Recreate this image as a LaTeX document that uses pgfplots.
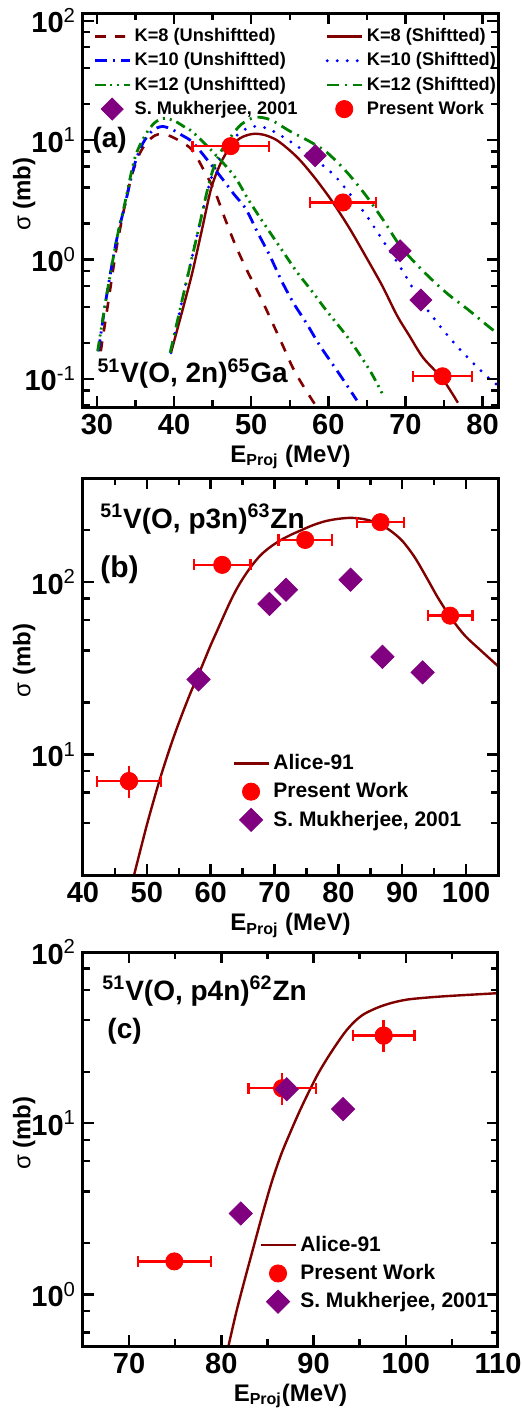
\documentclass[border=0pt]{standalone}
\usepackage{pgfplots}
\pgfplotsset{compat=1.18}
\usepackage{fontspec}
\setmainfont{Liberation Sans}
\definecolor{kred}{RGB}{128,0,0}
\definecolor{kblue}{RGB}{0,0,255}
\definecolor{kgreen}{RGB}{0,128,0}
\definecolor{mpurple}{RGB}{128,0,128}
\definecolor{pred}{RGB}{255,0,0}

\tikzset{note/.style={inner sep=0pt, font=\fontsize{14}{15}\selectfont\bfseries}}

\pgfplotsset{
  every axis/.append style={
    scale only axis, width=207.5pt,
    axis line style={line width=1.5pt},
    tick label style={font=\fontsize{14.5}{15}\selectfont\bfseries},
    label style={font=\fontsize{12}{13}\selectfont\bfseries},
    minor x tick num=1,
    legend cell align=left,
  },
  every axis y label/.style={at={(axis description cs:-0.142,0.54)}, rotate=90, anchor=center},
  every axis x label/.style={at={(axis description cs:0.5,-0.14)}, anchor=base},
  pw/.style={only marks, mark=*, mark size=4.3pt, color=pred,
    error bars/x dir=both, error bars/x explicit,
    error bars/error bar style={line width=1.2pt, pred},
    error bars/error mark options={rotate=90, pred, line width=1.2pt, mark size=2.8pt}},
  pwy/.style={only marks, mark=*, mark size=4.3pt, color=pred, forget plot,
    error bars/y dir=both, error bars/y explicit,
    error bars/error bar style={line width=1.2pt, pred},
    error bars/error mark options={pred, line width=1.2pt, mark size=2.8pt}},
  mk/.style={only marks, mark=square*, mark size=3.9pt, mark options={rotate=45}, color=mpurple},
  alice/.style={kred, line width=1.2pt, smooth, no marks},
}

\begin{document}
\begin{tikzpicture}

% ---------------- (a) 51V(O,2n)65Ga
\begin{axis}[at={(0,0)}, anchor=north west, height=197pt, ymode=log,
  axis on top, every tick/.style={draw=black, line width=1.2pt},
  major tick length=5.5pt, minor tick length=3.5pt,
  /pgf/number format/assume math mode=true,
  xmin=28.2, xmax=82, xtick={30,40,...,80},
  ymin=0.058, ymax=116, ytick={0.1,1,10,100},
  yticklabels={10\textsuperscript{\mdseries -1},10\textsuperscript{\mdseries 0},10\textsuperscript{\mdseries 1},10\textsuperscript{\mdseries 2}},
  minor ytick={0.06,0.08,0.2,0.4,0.6,0.8,2,4,6,8,20,40,60,80},
  xlabel={E\textsubscript{Proj} (MeV)},
  ylabel={{\mdseries σ} (mb)},
  legend columns=2,
  legend style={draw=none, fill=none, at={(axis description cs:0.025,0.972)}, anchor=north west,
    font=\fontsize{9.1}{10}\selectfont\bfseries, row sep=0pt, inner sep=0pt,
    /tikz/every even column/.append style={column sep=12pt}},
]
\addplot[kred, line width=1.3pt, dash pattern=on 5pt off 5pt, smooth] coordinates {
 (30.5,0.17) (31.5,0.45) (32.5,1.2) (33.5,2.6) (34.5,5.0) (35.5,7.6) (36.5,9.6) (37.5,10.9)
 (38.3,11.2) (39.5,10.8) (41,9.6) (42.4,8.2) (43.8,5.7) (45.3,3.7) (46.6,2.2) (48,1.3)
 (49.5,0.8) (51.1,0.5) (52.6,0.31) (54.1,0.19) (55.5,0.12) (57,0.082) (58.5,0.058)};
\addlegendentry{K=8 (Unshiftted)}
\addplot[kred, line width=1.2pt, smooth] coordinates {
 (39.6,0.165) (40.5,0.27) (41.5,0.47) (42.4,0.79) (43.6,1.75) (44.8,3.9) (46,6.3) (47.2,8.6)
 (48.5,10.3) (49.5,11.0) (50.5,11.3) (51.8,11.0) (53.3,10.0) (55,8.2) (56.5,6.6) (58.5,4.6)
 (60.6,3.0) (62.8,1.8) (65,1.02) (67,0.6) (68.9,0.34) (70.5,0.23) (72.3,0.15) (74.8,0.10) (76.8,0.063)};
\addlegendentry{K=8 (Shiftted)}
\addplot[kblue, line width=1.4pt, dash pattern=on 6pt off 3pt on 1pt off 3pt, smooth] coordinates {
 (30.2,0.17) (31.2,0.47) (32.5,1.4) (33.6,2.8) (34.9,6.3) (36,9.5) (37.2,12) (38.5,13)
 (39.8,12.2) (41,11) (42.4,9.6) (44.5,6.6) (46.3,4.7) (47.8,3.5) (49.3,2.66) (50.8,1.7)
 (52.4,1.08) (54,0.65) (55.5,0.43) (57.2,0.29) (58.9,0.19) (61.5,0.108) (63.7,0.066)};
\addlegendentry{K=10 (Unshiftted)}
\addplot[kblue, line width=1.6pt, line cap=round, dash pattern=on 0pt off 5pt, smooth] coordinates {
 (39.6,0.165) (41.1,0.47) (43.1,1.7) (44.6,4.3) (45.8,6.8) (47.2,9.3) (48.5,11.5) (49.8,12.8)
 (51,13) (52.5,12.2) (55,9.8) (57.5,7.5) (60.6,5.2) (63,3.4) (65,2.3) (67.2,1.4) (69.3,0.87)
 (71,0.57) (72.7,0.39) (74.6,0.27) (76.6,0.19) (78.8,0.135) (80.9,0.10) (82,0.088)};
\addlegendentry{K=10 (Shiftted)}
\addplot[kgreen, line width=1.4pt, dash pattern=on 5pt off 2.5pt on 1pt off 2.5pt on 1pt off 2.5pt, smooth] coordinates {
 (30.1,0.17) (31.2,0.47) (32.5,1.4) (33.6,2.9) (34.9,7.0) (36.2,10.8) (37.5,14) (38.8,15.2)
 (40.2,14.3) (41.5,12.7) (42.4,11.7) (45,8.0) (47.8,5.0) (49.6,3.2) (51.5,2.07) (54.1,1.17)
 (55.9,0.79) (57.8,0.55) (59.8,0.37) (62.8,0.21) (65.4,0.117) (67,0.075)};
\addlegendentry{K=12 (Unshiftted)}
\addplot[kgreen, line width=1.4pt, dash pattern=on 6pt off 3pt on 1pt off 3pt, smooth] coordinates {
 (39.5,0.165) (41.1,0.47) (43.1,1.7) (44.6,4.5) (45.7,7.2) (47.2,10.3) (48.7,13.5) (50.5,15.5)
 (52.5,14.8) (55,11.9) (57.5,9.8) (59.8,7.9) (62.5,5.3) (65,3.35) (67.2,2.1) (69.3,1.3)
 (71.5,0.9) (73.5,0.67) (75.7,0.5) (77.9,0.39) (80.9,0.27) (82,0.24)};
\addlegendentry{K=12 (Shiftted)}
\addplot[mk] coordinates {(58.3,7.4) (69.3,1.18) (72.0,0.457)};
\addlegendentry{S. Mukherjee, 2001}
\addplot[pw] coordinates {(47.35,8.9) +- (4.95,0) (61.9,3.0) +- (4.3,0) (74.8,0.105) +- (3.85,0)};
\addlegendentry{Present Work}
\node[note, anchor=west] at (axis description cs:0.022,0.678) {(a)};
\node[note, anchor=base west] at (axis description cs:0.034,0.061)
  {\textsuperscript{51}V(O, 2n)\textsuperscript{65}Ga};
\end{axis}

% ---------------- (b) 51V(O,p3n)63Zn
\begin{axis}[at={(0,-232.5pt)}, anchor=north west, height=198.5pt, ymode=log,
  axis on top, every tick/.style={draw=black, line width=1.2pt},
  major tick length=5.5pt, minor tick length=3.5pt,
  /pgf/number format/assume math mode=true,
  xmin=40, xmax=105, xtick={40,50,...,100},
  ymin=2, ymax=400, ytick={10,100},
  yticklabels={10\textsuperscript{\mdseries 1},10\textsuperscript{\mdseries 2}},
  minor ytick={2,4,6,8,20,40,60,80,200,400},
  xlabel={E\textsubscript{Proj} (MeV)},
  ylabel={{\mdseries σ} (mb)},
  legend style={draw=none, fill=none, at={(axis description cs:0.36,0.315)}, anchor=north west,
    font=\fontsize{10.5}{11}\selectfont\bfseries, row sep=1pt, inner sep=0pt},
]
\addplot[alice] coordinates {
 (48,2.0) (49,2.8) (50,3.9) (51,5.3) (52,7.1) (53,9.3) (54,12) (55,15.2) (56,19) (57,23.5)
 (58,28.5) (59,35) (60,43) (61,52) (62,63) (63,76) (64,90) (65,104) (66,118) (67,132) (68,145)
 (69.4,160) (71,175) (72.5,187) (74,198) (76,213) (78,225) (80,232) (82,235) (84,231) (86,220)
 (88,200) (90,173) (92,138) (94,103) (95.5,82) (97,67) (98.5,56) (100,48) (102,41) (103.5,36.5) (105,32.5)};
\addlegendentry{Alice-91}
\addplot[pw] coordinates {(47.2,7.0) +- (5.0,0) (61.8,125.5) +- (4.45,0) (74.8,175) +- (4.2,0)
 (86.6,222) +- (3.7,0) (97.5,63.7) +- (3.5,0)};
\addlegendentry{Present Work}
\addplot[pwy] coordinates {(47.2,7.0) +- (0,1.0)};
\addplot[mk, mark size=4.1pt] coordinates {(58.1,27.2) (69.2,74.5) (71.8,90) (81.9,103) (86.9,36.8) (93.2,29.9)};
\addlegendentry{S. Mukherjee, 2001}
\node[note, anchor=west, font=\fontsize{15}{16}\selectfont\bfseries] at (axis description cs:0.041,0.768) {(b)};
\node[note, anchor=base west] at (axis description cs:0.041,0.874)
  {\textsuperscript{51}V(O, p3n)\textsuperscript{63}Zn};
\end{axis}

% ---------------- (c) 51V(O,p4n)62Zn
\begin{axis}[at={(0,-469.5pt)}, anchor=north west, height=197pt, ymode=log,
  axis on top, every tick/.style={draw=black, line width=1.2pt},
  major tick length=5.5pt, minor tick length=3.5pt,
  /pgf/number format/assume math mode=true,
  xmin=65, xmax=110, xtick={70,80,...,110},
  ymin=0.5, ymax=100, ytick={1,10,100},
  yticklabels={10\textsuperscript{\mdseries 0},10\textsuperscript{\mdseries 1},10\textsuperscript{\mdseries 2}},
  minor ytick={0.6,0.8,2,4,6,8,20,40,60,80},
  xlabel={E\textsubscript{Proj}(MeV)},
  ylabel={{\mdseries σ} (mb)},
  legend style={draw=none, fill=none, at={(axis description cs:0.425,0.29)}, anchor=north west,
    font=\fontsize{10.5}{11}\selectfont\bfseries, row sep=1pt, inner sep=0pt},
]
\addplot[alice] coordinates {
 (80.7,0.48) (81.6,0.78) (82.5,1.2) (83.5,1.9) (84.5,3.0) (85.5,4.6) (86.5,6.6) (87.5,8.9)
 (88.5,11.8) (89.5,15.3) (90.5,19.5) (91.5,24) (92.5,29) (93.5,34.5) (94.5,39.5) (95.5,43.5)
 (97,47.5) (98.5,50.5) (100.2,52.8) (102.5,54.3) (105,55.5) (110,57.5)};
\addlegendentry{Alice-91}
\addplot[pw] coordinates {(74.9,1.56) +- (3.95,0) (86.6,16) +- (3.65,0) (97.6,32.5) +- (3.35,0)};
\addlegendentry{Present Work}
\addplot[pwy] coordinates {(86.6,16) +- (0,2.2) (97.6,32.5) +- (0,4.5)};
\addplot[mk, mark size=4.1pt] coordinates {(82.1,2.97) (87.1,15.8) (93.2,12.1)};
\addlegendentry{S. Mukherjee, 2001}
\node[note, anchor=west] at (axis description cs:0.058,0.80) {(c)};
\node[note, anchor=base west] at (axis description cs:0.046,0.878)
  {\textsuperscript{51}V(O, p4n)\textsuperscript{62}Zn};
\end{axis}

\pgfresetboundingbox
\useasboundingbox (-41.5pt,6.5pt) rectangle (219.5pt,-698.5pt);
\end{tikzpicture}
\end{document}
